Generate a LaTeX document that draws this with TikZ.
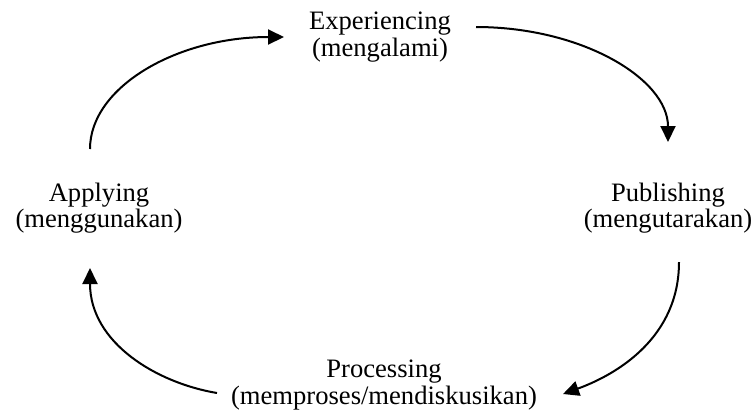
\documentclass[tikz,border=0pt]{standalone}
\usepackage{fontspec}
\setmainfont{Liberation Serif}
\usetikzlibrary{calc,arrows.meta}

\begin{document}
\begin{tikzpicture}[x=0.5pt,y=0.5pt,
		stage/.style={align=center,inner sep=0pt,font=\fontsize{13.3}{11.6}\selectfont},
		cyc/.style={line width=1pt,-{Triangle[length=8pt,width=7.5pt]}}]
		\useasboundingbox (0,0) rectangle (755,-409);
		\node[stage] (exp) at (380,-37) {Experiencing\\(mengalami)};
		\node[stage] (pub) at (668,-208) {Publishing\\(mengutarakan)};
		\node[stage] (pro) at (384,-385) {Processing\\(memproses/mendiskusikan)};
		\node[stage] (app) at (99,-208) {Applying\\(menggunakan)};
		\draw[cyc] ($(app)+(-9,59)$) .. controls +(0,62) and +(-107,0) .. ($(exp)+(-96,0)$);
		\draw[cyc] ($(exp)+(96,10)$) .. controls +(106,0) and +(0,63) .. ($(pub)+(0,66)$);
		\draw[cyc] ($(pub)+(11,-54)$) .. controls +(0,-75) and +(55,20) .. ($(pro)+(179,-9)$);
		\draw[cyc] ($(pro)+(-167,-8)$) .. controls +(-60,10) and +(0,-75) .. ($(app)+(-9,-60)$);
	\end{tikzpicture}
\end{document}
